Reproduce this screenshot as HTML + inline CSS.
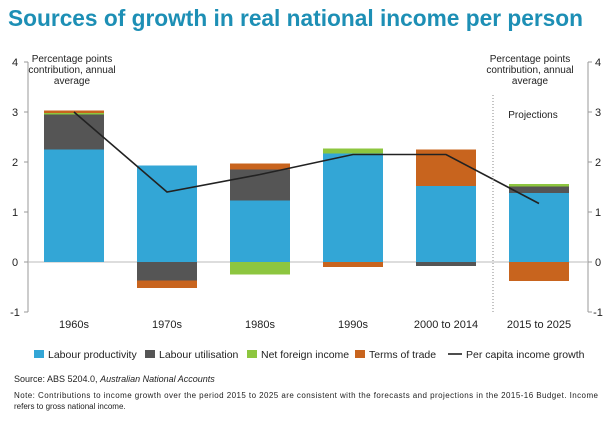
<!DOCTYPE html>
<html><head><meta charset="utf-8"><style>
body{margin:0;background:#fff;font-family:"Liberation Sans",Arial,sans-serif;}
svg text{font-family:"Liberation Sans",Arial,sans-serif;}
</style></head><body>
<svg id="c" width="612" height="419" viewBox="0 0 612 419">
<text x="8" y="26" font-size="23" font-weight="bold" fill="#1d8fb5" textLength="575" lengthAdjust="spacingAndGlyphs">Sources of growth in real national income per person</text>
</svg>
<script>
const categories=["1960s","1970s","1980s","1990s","2000 to 2014","2015 to 2025"];
const labourProductivity=[2.25,1.93,1.23,2.17,1.52,1.38];
const labourUtilisation=[0.7,-0.37,0.62,0,-0.08,0.13];
const netForeignIncome=[0.03,0,-0.25,0.1,0,0.05];
const termsOfTrade=[0.05,-0.15,0.12,-0.1,0.73,-0.38];
const perCapita=[3.0,1.4,1.75,2.15,2.15,1.17];
const yTicks=[4,3,2,1,0,-1];
const svg=document.getElementById('c');
const NS='http://www.w3.org/2000/svg';
function y(v){return 262-v*50;}
function xc(i){return 74+i*93;}
const bw=60;
function mk(t,a,p){const e=document.createElementNS(NS,t);for(const k in a)e.setAttribute(k,a[k]);(p||svg).appendChild(e);return e;}
let ax=mk('line',{x1:28,y1:62,x2:28,y2:312,stroke:'#999'});


ax=mk('line',{x1:588,y1:62,x2:588,y2:312,stroke:'#999'});


ax=mk('line',{x1:28,y1:262,x2:588,y2:262,stroke:'#bbb'});


yTicks.forEach(v=>{
 mk('line',{x1:24,y1:y(v),x2:28,y2:y(v),stroke:'#999'});
 mk('line',{x1:588,y1:y(v),x2:592,y2:y(v),stroke:'#999'});
 let t=mk('text',{x:15,y:y(v)+4,'font-size':11,'text-anchor':'middle',fill:'#222'});t.textContent=v;
 
 
 t=mk('text',{x:598,y:y(v)+4,'font-size':11,'text-anchor':'middle',fill:'#222'});t.textContent=v;
 
 
});
const series=[[labourProductivity,'#33a6d6','labour-productivity'],[labourUtilisation,'#555555','labour-utilisation'],[netForeignIncome,'#8dc63f','net-foreign-income'],[termsOfTrade,'#c8641e','terms-of-trade']];
categories.forEach((c,i)=>{
 let pos=0,neg=0;
 series.forEach(([d,col,nm])=>{
  const v=d[i];if(!v)return;
  let a,b;
  if(v>0){a=pos;b=pos+v;pos=b;}else{a=neg;b=neg+v;neg=b;}
  const r=mk('rect',{x:xc(i)-bw/2,y:y(Math.max(a,b)),width:bw,height:Math.abs(b-a)*50,fill:col});
  
  
 });
 const t=mk('text',{x:xc(i),y:328,'font-size':11,'text-anchor':'middle',fill:'#222'});t.textContent=c;
 
 
});
const ln=mk('polyline',{points:perCapita.map((v,i)=>xc(i)+','+y(v)).join(' '),fill:'none',stroke:'#222','stroke-width':1.6});


const dl=mk('line',{x1:493,y1:95,x2:493,y2:312,stroke:'#888','stroke-dasharray':'1,2'});


function txt(lines,x,y0,nm){lines.forEach((s,k)=>{const t=mk('text',{x:x,y:y0+k*11,'font-size':10,'text-anchor':'middle',fill:'#222'});t.textContent=s;
 
 });}
txt(['Percentage points','contribution, annual','average'],72,62,'left-axis-note');
txt(['Percentage points','contribution, annual','average'],530,62,'right-axis-note');
txt(['Projections'],533,118,'projections-label');
const leg=[['Labour productivity','#33a6d6',34],['Labour utilisation','#555555',145],['Net foreign income','#8dc63f',247],['Terms of trade','#c8641e',355]];
leg.forEach(([s,col,x])=>{
 const r=mk('rect',{x:x,y:350,width:10,height:8,fill:col});
 
 
 const t=mk('text',{x:x+14,y:358,'font-size':10.5,fill:'#222'});t.textContent=s;
 
 
});
const ll=mk('line',{x1:448,y1:354,x2:462,y2:354,stroke:'#222','stroke-width':1.6});


const lt=mk('text',{x:466,y:358,'font-size':10.5,fill:'#222'});lt.textContent='Per capita income growth';


const src=mk('text',{x:14,y:382,'font-size':9,fill:'#222'});
src.innerHTML='Source: ABS 5204.0, <tspan font-style="italic">Australian National Accounts</tspan>';


const n1=mk('text',{x:14,y:398,'font-size':8,fill:'#222',textLength:584});n1.textContent='Note: Contributions to income growth over the period 2015 to 2025 are consistent with the forecasts and projections in the 2015-16 Budget. Income';


const n2=mk('text',{x:14,y:409,'font-size':8,fill:'#222'});n2.textContent='refers to gross national income.';


</script>
</body></html>
